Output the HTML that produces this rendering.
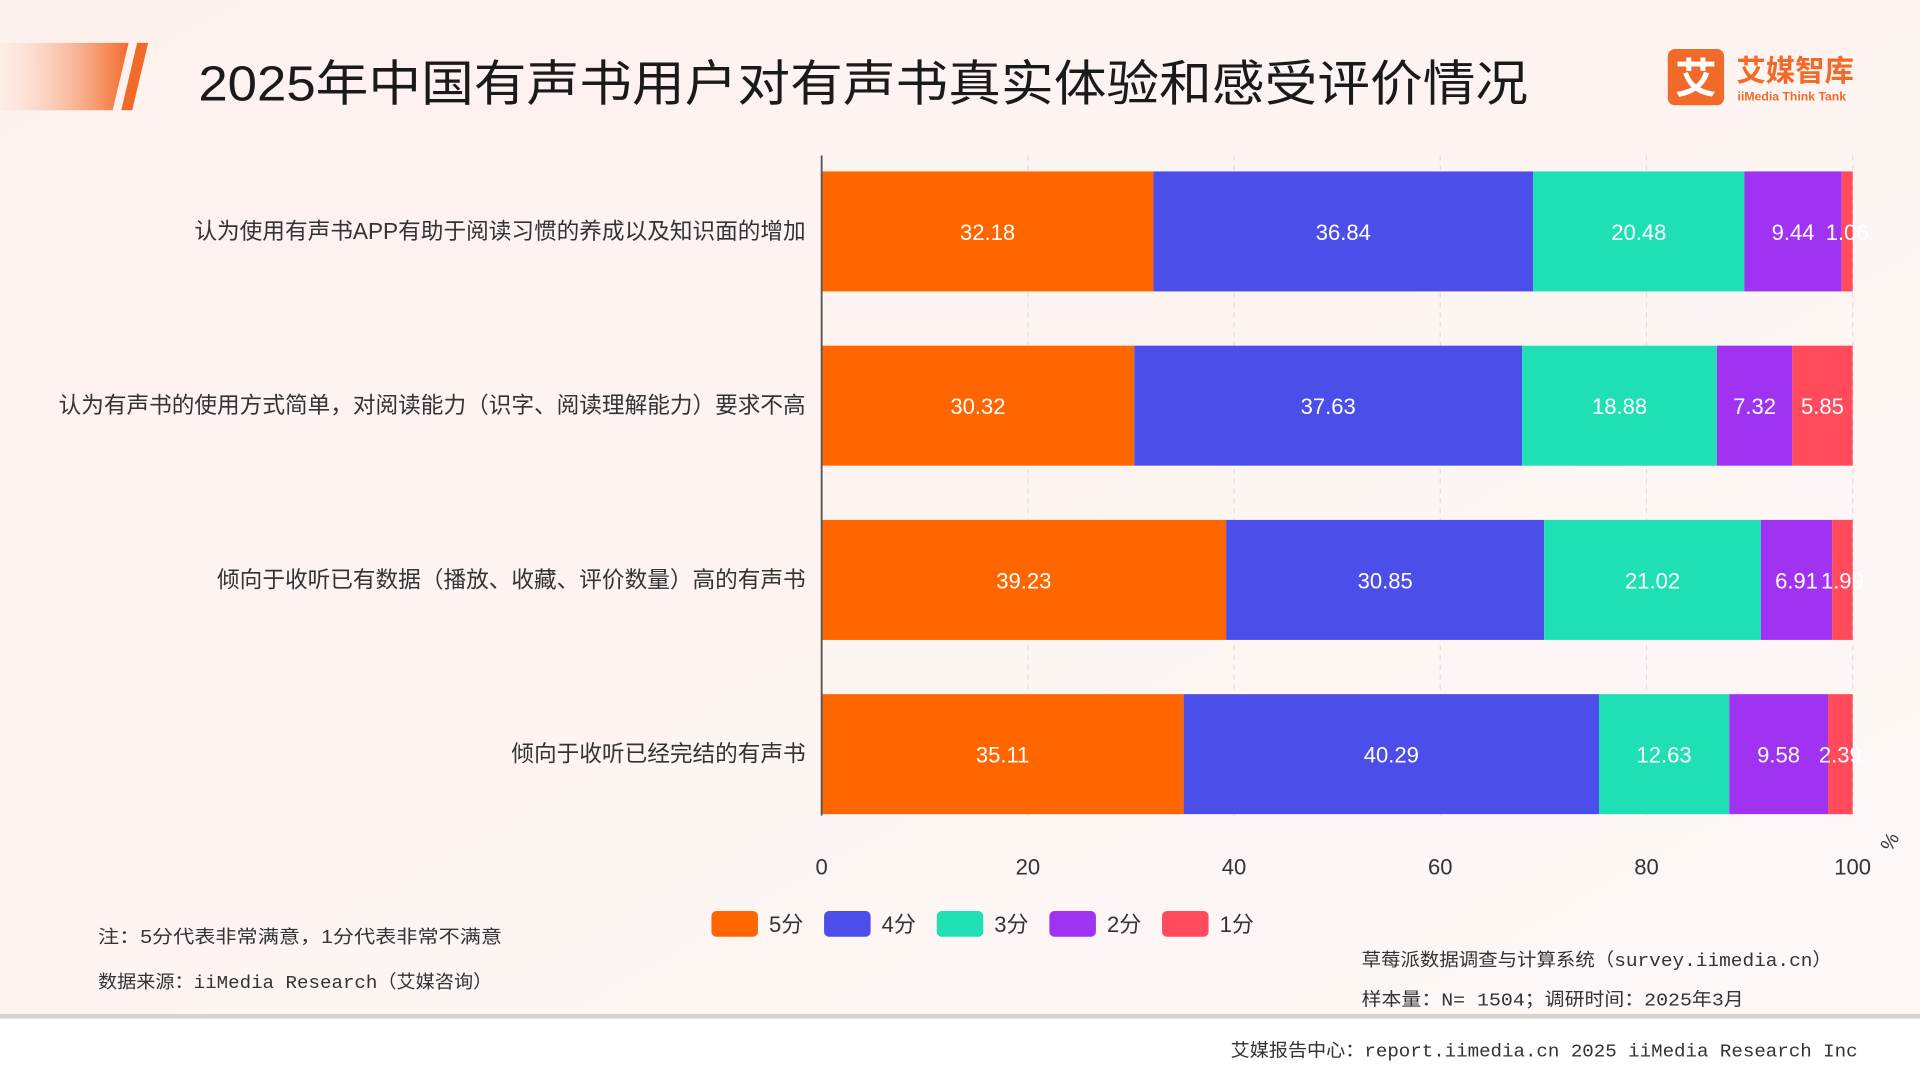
<!DOCTYPE html>
<html><head><meta charset="utf-8"><style>
html,body{margin:0;padding:0;width:1920px;height:1080px;overflow:hidden;background:#fdf6f4}
svg{display:block}
text{font-family:"Liberation Sans","Noto Sans CJK SC",sans-serif}
.mono{font-family:"Liberation Mono","Noto Sans CJK SC",monospace}
</style></head><body>
<svg id="chart" width="1920" height="1080" viewBox="0 0 1568 882" xmlns="http://www.w3.org/2000/svg">
<defs>
<linearGradient id="bg" x1="0" y1="0" x2="1" y2="1"><stop offset="0" stop-color="#fdf1ee"/><stop offset="1" stop-color="#fdf8f6"/></linearGradient>
<linearGradient id="stripe" x1="0" y1="0" x2="1" y2="0"><stop offset="0" stop-color="#fde3d8" stop-opacity="0.3"/><stop offset="1" stop-color="#f26a2a"/></linearGradient>
</defs>
<rect width="1568" height="882" fill="url(#bg)"/>
<polygon points="0,35 105,35 92,90 0,90" fill="url(#stripe)"/>
<polygon points="112,35 121,35 108,90 99,90" fill="#f26a2a"/>
<text x="162" y="82" font-size="40" fill="#1a1a1a" textLength="1086" lengthAdjust="spacingAndGlyphs">2025年中国有声书用户对有声书真实体验和感受评价情况</text>
<g>
<rect x="1362" y="40" width="46" height="46" rx="6" fill="#f26a2a"/>
<text x="1385" y="76" font-size="34" font-weight="bold" fill="#fff" text-anchor="middle">艾</text>
<text x="1418" y="66" font-size="24" font-weight="bold" fill="#f26a2a">艾媒智库</text>
<text x="1419" y="82" font-size="10" font-weight="bold" fill="#f26a2a">iiMedia Think Tank</text>
</g>
<g id="plot"></g>
<g fill="#333" font-size="15">
<text x="80" y="770" textLength="330" lengthAdjust="spacingAndGlyphs">注：5分代表非常满意，1分代表非常不满意</text>
<text x="80" y="807" class="mono" textLength="322" lengthAdjust="spacingAndGlyphs">数据来源：iiMedia Research（艾媒咨询）</text>
<text x="1112" y="789" class="mono" textLength="384" lengthAdjust="spacingAndGlyphs">草莓派数据调查与计算系统（survey.iimedia.cn）</text>
<text x="1112" y="821" class="mono" textLength="312" lengthAdjust="spacingAndGlyphs">样本量：N= 1504；调研时间：2025年3月</text>
</g>
<rect x="0" y="828" width="1568" height="4" fill="#d4d4d4"/>
<rect x="0" y="832" width="1568" height="50" fill="#fff"/>
<text x="1005" y="863" font-size="15" fill="#333" class="mono" textLength="512" lengthAdjust="spacingAndGlyphs">艾媒报告中心：report.iimedia.cn   2025 iiMedia Research Inc</text>
</svg>
<script>
const categories=["认为使用有声书APP有助于阅读习惯的养成以及知识面的增加","认为有声书的使用方式简单，对阅读能力（识字、阅读理解能力）要求不高","倾向于收听已有数据（播放、收藏、评价数量）高的有声书","倾向于收听已经完结的有声书"];
const seriesNames=["5分","4分","3分","2分","1分"];
const s5=[32.18,30.32,39.23,35.11];
const s4=[36.84,37.63,30.85,40.29];
const s3=[20.48,18.88,21.02,12.63];
const s2=[9.44,7.32,6.91,9.58];
const s1=[1.06,5.85,1.99,2.39];
const ticks=[0,20,40,60,80,100];
const series=[s5,s4,s3,s2,s1];
const colors=["#ff6600","#4b4ee8","#1ee0b4","#a033f2","#ff4b5c"];
const NS="http://www.w3.org/2000/svg";
const plotG=document.getElementById('plot');
const x0=671,x1=1513,plotTop=127,rowH=142.3,barH=98,firstY=189;
const X=v=>x0+(x1-x0)*v/100;
const Y=i=>firstY+rowH*i;
function mk(t,a){const e=document.createElementNS(NS,t);for(const k in a)e.setAttribute(k,a[k]);plotG.appendChild(e);return e;}
ticks.forEach(t=>{
 if(t>0){const l=mk('line',{x1:X(t),x2:X(t),y1:plotTop,y2:666,stroke:'#ddd','stroke-dasharray':'4,4'});
 
 }
 const tx=mk('text',{x:X(t),y:714,'font-size':18,fill:'#333','text-anchor':'middle'});tx.textContent=t;
 
 
});
const pc=mk('text',{x:1548,y:690,'font-size':16,fill:'#333','text-anchor':'middle',transform:'rotate(-60 1548 690)'});pc.textContent='%';


categories.forEach((c,i)=>{
 const t=mk('text',{x:658,y:Y(i)+6,'font-size':18.5,fill:'#333','text-anchor':'end'});t.textContent=c;
 
 
 let acc=0;
 series.forEach((s,j)=>{
  const v=s[i];
  const r=mk('rect',{x:X(acc),y:Y(i)-barH/2,width:X(acc+v)-X(acc),height:barH,fill:colors[j]});
  
  
  const lt=mk('text',{x:(X(acc)+X(acc+v))/2,y:Y(i)+7,'font-size':18,fill:'#fff','text-anchor':'middle'});
  lt.textContent=String(v);
  
  
  acc+=v;
 });
});
const ax=mk('line',{x1:x0,x2:x0,y1:plotTop,y2:666,stroke:'#555','stroke-width':1.5});


seriesNames.forEach((n,j)=>{
 const lx=581+92*j;
 const r=mk('rect',{x:lx,y:744,width:38,height:21,rx:4,fill:colors[j]});
 
 
 const t=mk('text',{x:lx+47,y:761,'font-size':18,fill:'#333'});t.textContent=n;
 
 
});
</script>
</body></html>
